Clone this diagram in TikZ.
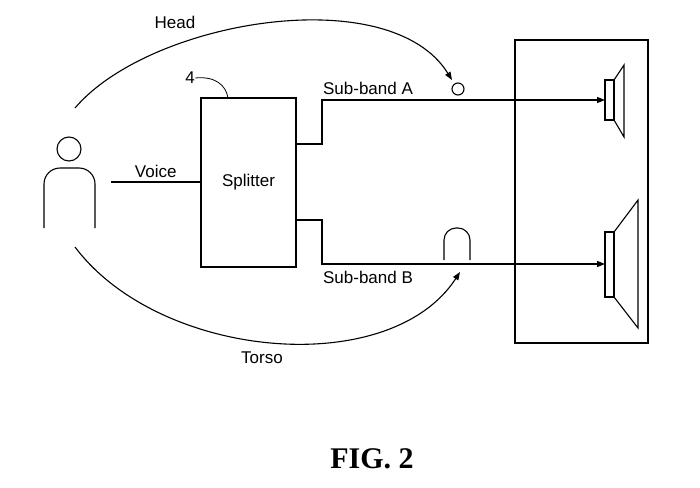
\documentclass[tikz,border=0pt]{standalone}
\usepackage{fontspec}
\setmainfont{Liberation Sans}
\newfontfamily\figfont{Liberation Serif}
\usetikzlibrary{arrows.meta}
\begin{document}
\begin{tikzpicture}[x=1pt,y=-1pt,line width=1.1pt,
  lbl/.style={font=\fontsize{17}{20}\selectfont,inner sep=0pt},
  arr/.style={-{Triangle[length=8pt,width=6pt]}},
  box/.style={draw,inner sep=0pt}]
\useasboundingbox (0,0) rectangle (700,487);
% person
\node[draw,circle,minimum size=24pt,inner sep=0pt] (head) at (69,149) {};
\draw[rounded corners=16pt] (44,228) -- (44,168) -- (95,168) -- (95,228);
\coordinate (vs) at (111,182);
% splitter
\node[box,minimum width=95pt,minimum height=169pt,lbl] (split) at (248.5,182.5) {Splitter};
\draw (vs) -- (vs -| split.west) node[midway,above=4pt,lbl] {Voice};
\node[lbl] (four) at (190,78) {4};
\draw[line width=0.8pt] (four.east) .. controls (215,76) and (226,85) .. (228,98);
% routes
\coordinate (spkA) at (605,100);
\coordinate (spkB) at (605,264);
\draw[arr] (296,144) -- (322,144) -- (322,100) -- (spkA);
\draw[arr] (296,220) -- (322,220) -- (322,264) -- (spkB);
\node[lbl] (sa) at (368,88) {Sub-band A};
\node[lbl] (sb) at (368,277) {Sub-band B};
% ear and small circle
\node[draw,circle,minimum size=12pt,inner sep=0pt] (ear) at (458,89) {};
\draw[rounded corners=12pt] (444,260) -- (444,228) -- (470,228) -- (470,260);
% head and torso curves
\draw[arr] (75,108) .. controls (150,20) and (390,-20) .. (452,80);
\node[lbl] (hl) at (175,22) {Head};
\draw[arr] (75,247) .. controls (160,360) and (390,380) .. (460,272);
\node[lbl] (tl) at (262,358) {Torso};
% enclosure
\node[box,minimum width=133pt,minimum height=303pt] (enc) at (581.5,191.5) {};
% speakers
\draw (605,80) rectangle (614,120);
\draw (614,80) -- (624,65) -- (624,137) -- (614,120);
\draw (605,232) rectangle (614,297);
\draw (614,232) -- (638,200) -- (638,328) -- (614,297);
\node[font=\figfont\bfseries\fontsize{30}{34}\selectfont] (fig) at (372,459) {FIG. 2};
\end{tikzpicture}
\end{document}
